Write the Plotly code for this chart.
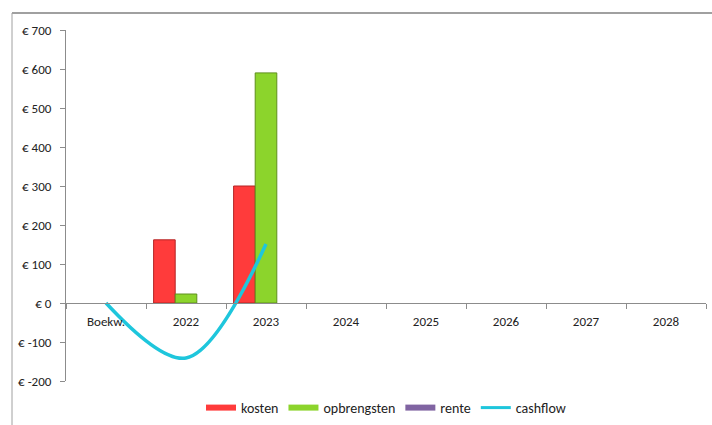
import plotly.graph_objects as go

categories = ["Boekw.", "2022", "2023", "2024", "2025", "2026", "2027", "2028"]
kosten = [None, 162, 300, None, None, None, None, None]
opbrengsten = [None, 23, 590, None, None, None, None, None]
rente = [0, 0, 0, 0, 0, 0, 0, 0]
cashflow_x = ["Boekw.", "2022", "2023"]
cashflow = [0, -141, 151]
y_tickvals = [-200, -100, 0, 100, 200, 300, 400, 500, 600, 700]
y_ticktext = ["€ -200", "€ -100", "€ 0", "€ 100", "€ 200", "€ 300", "€ 400", "€ 500", "€ 600", "€ 700"]

FONT = "Carlito, Lato, 'Liberation Sans', sans-serif"
RED, GREEN, PURPLE, CYAN = "#FF3B3B", "#8CD42C", "#8064A2", "#1EC6DC"

fig = go.Figure()
fig.add_trace(go.Bar(x=categories, y=kosten, name="kosten", showlegend=False,
                     marker=dict(color=RED, line=dict(color="#B52525", width=1))))
fig.add_trace(go.Bar(x=categories, y=opbrengsten, name="opbrengsten", showlegend=False,
                     marker=dict(color=GREEN, line=dict(color="#5E8F1C", width=1))))
fig.add_trace(go.Bar(x=categories, y=rente, name="rente", showlegend=False,
                     marker=dict(color=PURPLE, line=dict(width=0))))
fig.add_trace(go.Scatter(x=cashflow_x, y=cashflow, name="cashflow", mode="lines", showlegend=False,
                         line=dict(color=CYAN, width=3.5, shape="spline", smoothing=1.0)))
# legend entries (wide swatches like the original)
for name, col, w in [("kosten", RED, 6), ("opbrengsten", GREEN, 6), ("rente", PURPLE, 6), ("cashflow", CYAN, 3)]:
    fig.add_trace(go.Scatter(x=[None], y=[None], name=name, mode="lines",
                             line=dict(color=col, width=w), showlegend=True))

ymin, ymax = -200, 700
fig.update_layout(
    width=712, height=425,
    margin=dict(l=66, r=6, t=30, b=44, autoexpand=False),
    paper_bgcolor="white", plot_bgcolor="white",
    font=dict(family=FONT, size=13, color="#222"),
    barmode="group", bargap=0.19, bargroupgap=0,
    showlegend=True,
    legend=dict(orientation="h", x=0.5, xanchor="center", yref="container",
                y=1 - 408 / 425, yanchor="middle",
                font=dict(size=14), traceorder="normal", itemwidth=30),
    xaxis=dict(type="category", categoryorder="array", categoryarray=categories,
               range=[-0.5, 7.5], anchor="free", position=(0 - ymin) / (ymax - ymin),
               showline=True, linecolor="#8C8C8C", linewidth=1,
               ticks="outside", tickson="boundaries", ticklen=5, tickcolor="#8C8C8C",
               ticklabelstandoff=6, automargin=False,
               showgrid=False, zeroline=False, tickfont=dict(size=13)),
    yaxis=dict(range=[ymin, ymax], tickvals=y_tickvals, ticktext=y_ticktext,
               showline=True, linecolor="#8C8C8C", linewidth=1,
               ticks="outside", ticklen=5, tickcolor="#8C8C8C",
               ticklabelstandoff=6, automargin=False,
               showgrid=False, zeroline=False, tickfont=dict(size=13)),
    shapes=[
        dict(type="line", xref="paper", yref="paper",
             x0=(12 - 66) / 640, x1=(712 - 66) / 640 + 0.05,
             y0=1 + 17 / 351, y1=1 + 17 / 351,
             line=dict(color="#A0A0A0", width=2)),
        dict(type="line", xref="paper", yref="paper",
             x0=(12 - 66) / 640, x1=(12 - 66) / 640,
             y0=1 + 17 / 351, y1=-0.2,
             line=dict(color="#A0A0A0", width=1)),
    ],
)

fig.write_html("out.html")
